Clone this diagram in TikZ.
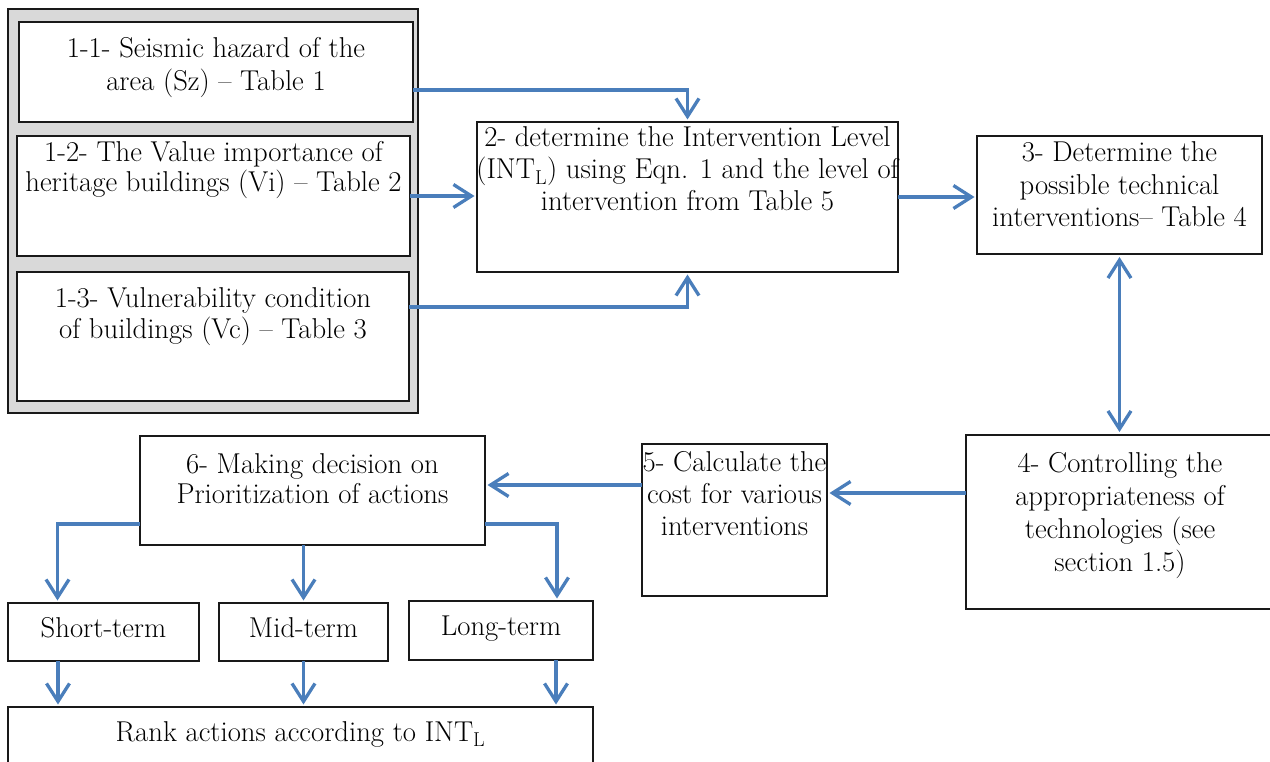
\documentclass[tikz,border=0pt]{standalone}
\usepackage{fontspec}
\usetikzlibrary{arrows.meta,calc}
\definecolor{arrowblue}{RGB}{74,126,187}
\definecolor{panelgray}{RGB}{217,217,217}
\newcommand\fsz[1]{\fontsize{28.7}{#1}\selectfont}
\newcommand\fst{\rule{0pt}{22pt}}
\begin{document}
\begin{tikzpicture}[x=1pt,y=-1pt,
  box/.style={draw=black!90, line width=1.3pt, fill=white, inner sep=0pt, outer sep=0pt, anchor=north west},
  panel/.style={draw=black!90, line width=2.2pt, fill=panelgray, inner sep=0pt, outer sep=0pt, anchor=north west},
  txt/.style={inner sep=0pt, outer sep=0pt, anchor=north, align=center},
  tipv/.tip={Straight Barb[length=18pt,width=23pt,line width=3.3pt]},
  arr/.style={draw=arrowblue, line width=3.3pt, -tipv, shorten >=2.5pt},
  dbl/.style={draw=arrowblue, line width=3.3pt, tipv-tipv, shorten >=3pt, shorten <=3pt}
]
\useasboundingbox (0,0) rectangle (1270,762);

% left panel
\node[panel, minimum width=410pt, minimum height=404pt] (pan) at (8,9) {};
\node[box, minimum width=394pt, minimum height=100pt] (b11) at (19,22) {};
\node[box, minimum width=393pt, minimum height=120pt] (b12) at (17,136) {};
\node[box, minimum width=392pt, minimum height=129pt] (b13) at (17,272) {};

% other boxes
\node[box, minimum width=421pt, minimum height=150pt] (b2) at (477,122) {};
\node[box, minimum width=285pt, minimum height=118pt] (b3) at (977,136) {};
\node[box, minimum width=307pt, minimum height=174pt] (b4) at (966,435) {};
\node[box, minimum width=185pt, minimum height=152pt] (b5) at (642,444) {};
\node[box, minimum width=345pt, minimum height=109pt] (b6) at (140,436) {};
\node[box, minimum width=191pt, minimum height=58pt] (st) at (8,603) {};
\node[box, minimum width=169pt, minimum height=58pt] (mt) at (219,603) {};
\node[box, minimum width=184pt, minimum height=59pt] (lt) at (409,601) {};
\node[box, minimum width=585pt, minimum height=62pt] (rk) at (8,707) {};

% texts
\node[txt, font=\fsz{33}] (b11t) at (216,36) {\fst 1-1- Seismic hazard of the\\area (Sz) – Table 1};
\node[txt, font=\fsz{30}] (b12t) at (213.5,140) {\fst 1-2- The Value importance of\\heritage buildings (Vi) – Table 2};
\node[txt, font=\fsz{31}] (b13t) at (213,285) {\fst 1-3- Vulnerability condition\\of buildings (Vc) – Table 3};
\node[txt, font=\fsz{32}] (b2t) at (687.5,125) {\fst 2- determine the Intervention Level\\(INT\textsubscript{L}) using Eqn. 1 and the level of\\intervention from Table 5};
\node[txt, font=\fsz{32.5}] (b3t) at (1119.5,140) {\fst 3- Determine the\\possible technical\\interventions– Table 4};
\node[txt, font=\fsz{33}] (b4t) at (1120,450) {\fst 4- Controlling the\\appropriateness of\\technologies (see\\section 1.5)};
\node[txt, font=\fsz{32}] (b5t) at (734.5,449) {\fst 5- Calculate the\\cost for various\\interventions};
\node[txt, font=\fsz{30}] (b6t) at (312.5,451) {\fst 6- Making decision on\\Prioritization of actions};
\node[txt, font=\fsz{32}] (stt) at (103.5,615) {\fst Short-term};
\node[txt, font=\fsz{32}] (mtt) at (303.5,615) {\fst Mid-term};
\node[txt, font=\fsz{32}] (ltt) at (501,613) {\fst Long-term};
\node[txt, font=\fsz{32}] (rkt) at (300.5,719) {\fst Rank actions according to INT\textsubscript{L}};

% helper coordinates
\coordinate (o11) at ([yshift=-18pt]b11.east);
\coordinate (o13) at ([yshift=29.5pt]b13.east);
\coordinate (o4) at ([yshift=29pt]b4.west);
\coordinate (o5) at ([yshift=35pt]b5.west);
\coordinate (o6l) at ([yshift=-33.5pt]b6.west);
\coordinate (o6r) at ([yshift=-33.5pt]b6.east);
\coordinate (ist) at ([xshift=-46pt]st.north);
\coordinate (ilt) at ([xshift=56pt]lt.north);
\coordinate (ost) at ([xshift=-45.5pt]st.south);
\coordinate (olt) at ([xshift=55pt]lt.south);

% connectors
\draw[arr] (o11) -| (b2.north);
\draw[arr] (b12.east) -- (b12.east -| b2.west);
\draw[arr] (o13) -| (b2.south);
\draw[arr] (b2.east) -- (b2.east -| b3.west);
\draw[dbl] (b3.south) -- (b3.south |- b4.north);
\draw[arr] (o4) -- (o4 -| b5.east);
\draw[arr] (o5) -- (o5 -| b6.east);
\draw[arr] (o6l) -| (ist);
\draw[arr] (b6.south -| mt.north) -- (mt.north);
\draw[arr] (o6r) -| (ilt);
\draw[arr] (ost) -- (ost |- rk.north);
\draw[arr] (mt.south) -- (mt.south |- rk.north);
\draw[arr] (olt) -- (olt |- rk.north);
\end{tikzpicture}
\end{document}
